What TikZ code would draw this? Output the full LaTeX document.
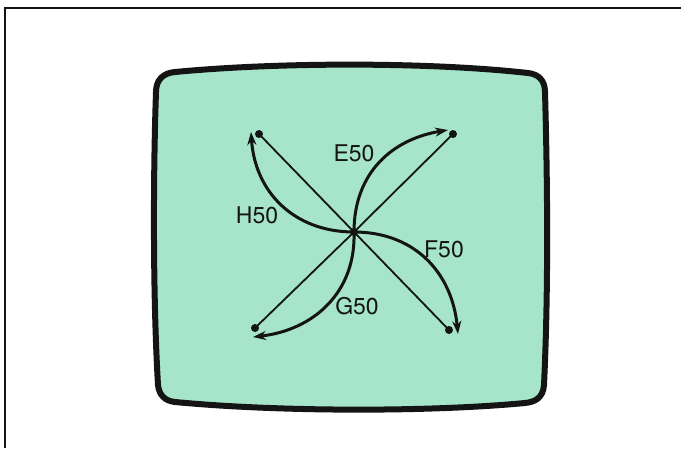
\documentclass[tikz,border=0pt]{standalone}
\usepackage{fontspec}
\setmainfont{TeX Gyre Heros}
\usetikzlibrary{arrows.meta}
\definecolor{screen}{RGB}{166,229,201}
\definecolor{ink}{RGB}{20,20,20}
\tikzset{
  frameline/.style={line width=2pt, draw=ink},
  screenedge/.style={line width=6pt, draw=ink, fill=screen, line join=round},
  ray/.style={line width=1.8pt, draw=ink},
  arc/.style={line width=3pt, draw=ink, -{Stealth[length=13pt,width=9pt]}},
  dotmark/.style={circle, fill=ink, inner sep=0pt, minimum size=8pt},
  lbl/.style={font=\fontsize{23}{23}\selectfont, text=ink, inner sep=0pt}
}
\begin{document}
\begin{tikzpicture}[x=1pt,y=-1pt]
\useasboundingbox (0,0) rectangle (681,448);
\fill[white] (0,0) rectangle (681,448);
% page frame
\draw[frameline] (5,448) -- (5,8) -- (681,8);
% screen
\path[screenedge] (156,92) .. controls (156,80) and (163,73) .. (175,72)
  .. controls (280,62) and (430,62) .. (528,73)
  .. controls (538,74) and (545,80) .. (545,92)
  .. controls (548,200) and (548,300) .. (544,385)
  .. controls (543,398) and (535,402) .. (525,403)
  .. controls (430,412) and (280,412) .. (175,402)
  .. controls (165,401) and (159,395) .. (158,385)
  .. controls (153,300) and (153,180) .. (156,92) -- cycle;
% points
\node[dotmark] (C) at (354,232) {};
\node[dotmark] (tl) at (259,134) {};
\node[dotmark] (tr) at (453,134) {};
\node[dotmark] (bl) at (255,328) {};
\node[dotmark] (br) at (449,330) {};
\coordinate (tE) at (448,130);
\coordinate (tF) at (458,334);
\coordinate (tG) at (253,337);
\coordinate (tH) at (251,132);
% straight rays
\draw[ray] (C.center) -- (tl.center);
\draw[ray] (C.center) -- (tr.center);
\draw[ray] (C.center) -- (bl.center);
\draw[ray] (C.center) -- (br.center);
% curved arrows
\draw[arc] (C.center) .. controls (354,172) and (393,139) .. (tE);
\draw[arc] (C.center) .. controls (414,232) and (452,272) .. (tF);
\draw[arc] (C.center) .. controls (356,292) and (314,330) .. (tG);
\draw[arc] (C.center) .. controls (294,232) and (255,192) .. (tH);
% labels
\node[lbl] (E) at (354,153) {E50};
\node[lbl] (F) at (444,249) {F50};
\node[lbl] (G) at (357,306) {G50};
\node[lbl] (H) at (257,215) {H50};
\end{tikzpicture}
\end{document}
